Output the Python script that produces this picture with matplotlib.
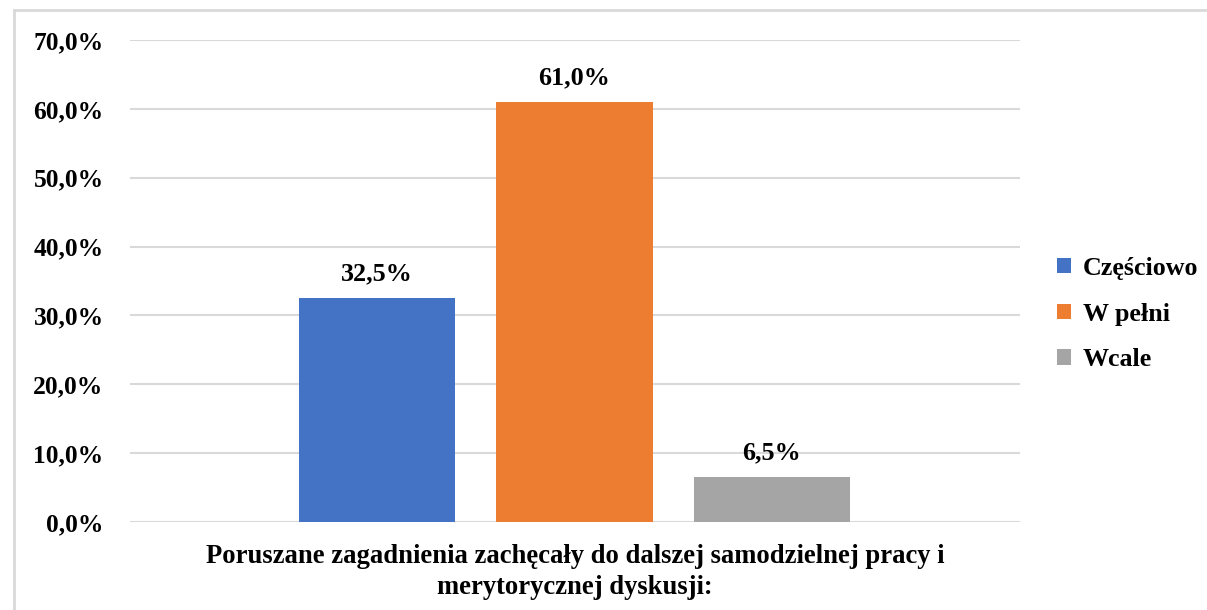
import matplotlib.pyplot as plt
from matplotlib.lines import Line2D

series = ['Częściowo', 'W pełni', 'Wcale']
values = [32.5, 61.0, 6.5]
colors = ['#4472c4', '#ed7d31', '#a5a5a5']
yticks = [0, 10, 20, 30, 40, 50, 60, 70]
xlabel = 'Poruszane zagadnienia zachęcały do dalszej samodzielnej pracy i\nmerytorycznej dyskusji:'

plt.rcParams['font.family'] = ['Liberation Serif', 'DejaVu Serif']
plt.rcParams['font.weight'] = 'bold'

fig = plt.figure(figsize=(12.07, 6.10), dpi=100)
ax = fig.add_axes([130 / 1207, 1 - 522 / 610, 890 / 1207, 482 / 610])

for i, (name, v, c) in enumerate(zip(series, values, colors)):
    ax.bar(i, v, width=0.79, color=c, label=name, zorder=3)
    ax.text(i, v + 1.9, ('%.1f%%' % v).replace('.', ','), ha='center', va='bottom',
            fontsize=18.8, fontweight='bold')

ax.set_xlim(-1.2506, 3.2557)
ax.set_ylim(0, 70)
ax.set_yticks(yticks)
ax.set_yticklabels([('%.1f%%' % t).replace('.', ',') for t in yticks], fontsize=18.4, fontweight='bold')
ax.set_xticks([])
ax.yaxis.grid(True, color='#d9d9d9', linewidth=1.5, zorder=0)
ax.tick_params(axis='y', length=0, pad=19)
for s in ax.spines.values():
    s.set_visible(False)

ax.set_xlabel(xlabel, fontsize=19.2, fontweight='bold', labelpad=16, linespacing=1.3)

ax.legend(loc='center left', bbox_to_anchor=(1.03, 0.4315), frameon=False, fontsize=18.7,
          handlelength=0.55, handleheight=0.55, handletextpad=0.45, labelspacing=0.88,
          borderaxespad=0)

# light frame of the original chart area
fig.add_artist(Line2D([14 / 1207, 14 / 1207], [0, 1 - 10 / 610], color='#d9d9d9', lw=2,
                      transform=fig.transFigure))
fig.add_artist(Line2D([14 / 1207, 1], [1 - 10 / 610, 1 - 10 / 610], color='#d9d9d9', lw=2,
                      transform=fig.transFigure))

fig.savefig('out.png', dpi=100)
